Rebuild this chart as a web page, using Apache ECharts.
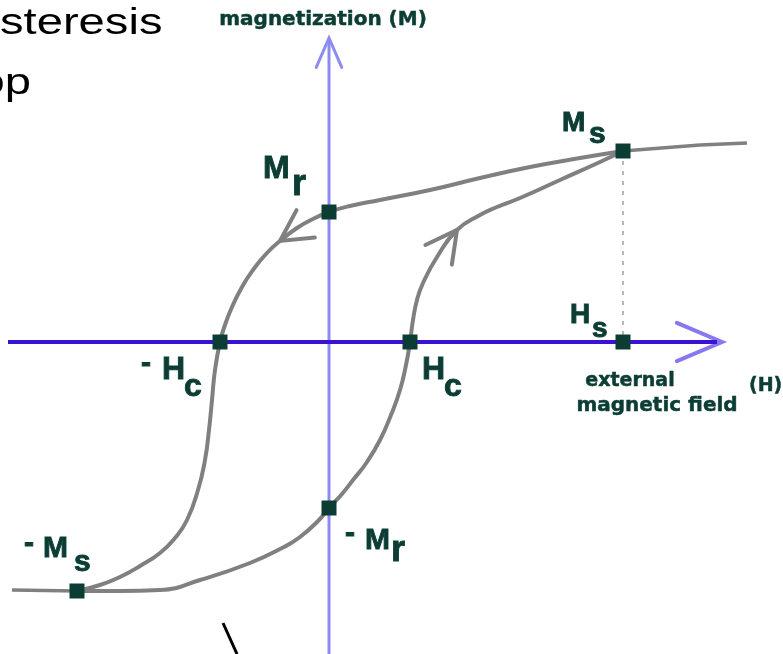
<!DOCTYPE html>
<html>
<head>
<meta charset="utf-8">
<title>Hysteresis loop</title>
<script src="https://cdn.jsdelivr.net/npm/echarts@6/dist/echarts.min.js"></script>
<style>
  html, body { margin: 0; padding: 0; background: #fff; }
  #chart { width: 783px; height: 654px; }
</style>
</head>
<body>
<div id="chart"></div>
<script>
// H (right) and M (up), origin where the two axes cross, 1 unit = 1 px
const upperBranch = [
  [294, 191], [251, 184], [201, 175], [151, 164], [101, 152], [51, 142],
  [21, 136], [0, 130], [-16, 123], [-32, 114], [-49, 101], [-63, 88],
  [-76, 72], [-87, 55], [-97, 35], [-104, 17], [-109, 0], [-114, -28],
  [-117, -58], [-120, -88], [-124, -118], [-131, -148], [-142, -178],
  [-154, -196], [-169, -211], [-189, -224], [-209, -235], [-229, -243],
  [-252, -249]
];
const lowerBranch = [
  [-252, -249], [-209, -249], [-169, -248], [-129, -238], [-79, -221],
  [-45, -205], [-29, -195], [-11, -179], [0, -166], [13, -152], [24, -138],
  [38, -120], [51, -98], [62, -73], [71, -48], [77, -23], [81, 0], [84, 22],
  [88, 42], [94, 59], [108, 85], [128, 112], [151, 127], [168, 135],
  [191, 144], [231, 162], [271, 180], [294, 191]
];
const tailRight = [[294, 191], [371, 197], [418, 199]];
const tailLeft = [[-317, -248], [-252, -249]];

const keyNames = ['Ms', 'Mr', '-Hc', 'Hc', 'Hs', '-Mr', '-Ms'];
const keyPoints = [[294, 191], [0, 130], [-109, 0], [81, 0], [294, 0], [0, -166], [-252, -249]];
const saturationDrop = [[294, 191], [294, 0]];

const hAxisLine = [[-321, 0], [388, 0]];
const mAxisLine = [[0, -312], [0, 302]];
// tip, then a point behind it
const axisTips = [[393, 0, 300, 0], [0, 304, 0, 200]];
const strayStroke = [[-106, -281], [-92, -312]];

// arrowheads sit on a branch point and look back at an earlier one
const curveArrows = [
  upperBranch[10].concat(upperBranch[8]),
  lowerBranch[21].concat(lowerBranch[20])
];

const GRAY = '#808080';
const TEAL = '#0b3d35';
const BOLD = '"Liberation Sans", Arial, sans-serif';
const WIDE = '"DejaVu Sans", Verdana, sans-serif';

function chevron(len, spread, color, width) {
  return function (params, api) {
    const tip = api.coord([api.value(0), api.value(1)]);
    const back = api.coord([api.value(2), api.value(3)]);
    const a = Math.atan2(back[1] - tip[1], back[0] - tip[0]);
    const end = (s) => [tip[0] + len * Math.cos(a + s), tip[1] + len * Math.sin(a + s)];
    return {
      type: 'polyline',
      shape: { points: [end(-spread), tip, end(spread)] },
      style: { stroke: color, lineWidth: width, fill: null, lineCap: 'round' }
    };
  };
}

function txt(x, y, text, size, opt) {
  opt = opt || {};
  const color = opt.color || TEAL;
  return {
    type: 'text',
    x: x, y: y,
    scaleX: opt.scaleX || 1,
    style: {
      text: text,
      fill: color,
      stroke: opt.heavy === 0 ? null : color,
      lineWidth: opt.heavy === undefined ? 0.9 : opt.heavy,
      font: (opt.weight || 'bold') + ' ' + size + 'px ' + (opt.family || BOLD),
      textAlign: opt.align || 'left',
      textVerticalAlign: 'middle'
    }
  };
}

const chart = echarts.init(document.getElementById('chart'));

const option = {
  animation: false,
  backgroundColor: '#fff',
  grid: { left: 0, right: 0, top: 0, bottom: 0 },
  xAxis: { type: 'value', min: -329, max: 454, show: false },
  yAxis: { type: 'value', min: -312, max: 342, show: false },
  series: [
    {
      type: 'line', data: mAxisLine, symbol: 'none', silent: true, z: 1,
      lineStyle: { color: '#8c8cf0', width: 3 }
    },
    {
      type: 'line', data: hAxisLine, symbol: 'none', silent: true, z: 1,
      lineStyle: { color: '#3a12d6', width: 4 }
    },
    {
      type: 'custom', data: axisTips.slice(0, 1), z: 1, clip: false,
      renderItem: chevron(49, 0.40, '#8678ee', 4)
    },
    {
      type: 'custom', data: axisTips.slice(1), z: 1, clip: false,
      renderItem: chevron(32, 0.41, '#8c8cf0', 3)
    },
    {
      type: 'line', data: saturationDrop, symbol: 'none', z: 2,
      lineStyle: { color: '#a0a0a0', width: 1.5, type: [4, 6] }
    },
    {
      type: 'line', data: upperBranch, symbol: 'none', smooth: 0.5, z: 3,
      lineStyle: { color: GRAY, width: 4 }
    },
    {
      type: 'line', data: lowerBranch, symbol: 'none', smooth: 0.5, z: 3,
      lineStyle: { color: GRAY, width: 4 }
    },
    {
      type: 'line', data: tailRight, symbol: 'none', z: 3,
      lineStyle: { color: GRAY, width: 3.5 }
    },
    {
      type: 'line', data: tailLeft, symbol: 'none', z: 3,
      lineStyle: { color: GRAY, width: 3.5 }
    },
    {
      type: 'custom', data: curveArrows, z: 3, clip: false,
      renderItem: chevron(35, 0.49, GRAY, 4)
    },
    {
      type: 'line', data: strayStroke, symbol: 'none', z: 3,
      lineStyle: { color: '#000', width: 3 }
    },
    {
      type: 'scatter', z: 5,
      data: keyPoints.map((p, i) => ({ name: keyNames[i], value: p })),
      symbol: 'rect', symbolSize: 15,
      itemStyle: { color: TEAL, opacity: 1 }
    }
  ],
  graphic: [
    // cropped title, the picture is stretched sideways
    txt(0, 24, 'steresis', 36, { weight: 'normal', color: '#000', scaleX: 1.31, heavy: 0 }),
    txt(31, 84, 'op', 36, { weight: 'normal', color: '#000', align: 'right', scaleX: 1.31, heavy: 0 }),
    // axis names
    txt(323, 20, 'magnetization (M)', 20, { family: WIDE, align: 'center', heavy: 0.5 }),
    txt(630, 381, 'external', 19, { family: WIDE, align: 'center', heavy: 0.5 }),
    txt(657, 406, 'magnetic field', 20, { family: WIDE, align: 'center', heavy: 0.5 }),
    txt(749, 386, '(H)', 19, { family: WIDE, heavy: 0.5 }),
    // point labels
    txt(562, 123, 'M', 28), txt(589, 135, 's', 30),
    txt(263, 169, 'M', 32), txt(292, 185, 'r', 36),
    txt(570, 315, 'H', 28), txt(592, 329, 's', 28),
    txt(141, 364, '-', 30), txt(162, 370, 'H', 32), txt(184, 387, 'c', 32),
    txt(422, 370, 'H', 32), txt(444, 387, 'c', 32),
    txt(345, 534, '-', 30), txt(365, 541, 'M', 30), txt(391, 551, 'r', 36),
    txt(24, 544, '-', 30), txt(43, 549, 'M', 30), txt(74, 563, 's', 30)
  ]
};

chart.setOption(option);
</script>
</body>
</html>
